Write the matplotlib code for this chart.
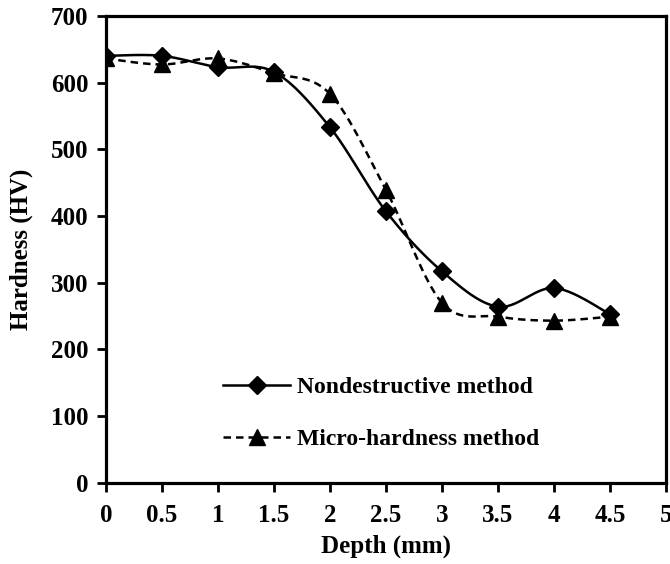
import numpy as np
import matplotlib.pyplot as plt
from matplotlib.lines import Line2D

depth = [0, 0.5, 1, 1.5, 2, 2.5, 3, 3.5, 4, 4.5]
nondestructive = [640, 640, 623, 616, 533, 407, 317, 264, 292, 253]
micro_hardness = [636, 627, 636, 614, 583, 439, 270, 249, 243, 249]

xticks = [0, 0.5, 1, 1.5, 2, 2.5, 3, 3.5, 4, 4.5, 5]
xticklabels = ['0', '0.5', '1', '1.5', '2', '2.5', '3', '3.5', '4', '4.5', '5']
yticks = [0, 100, 200, 300, 400, 500, 600, 700]

plt.rcParams['font.family'] = ['Liberation Serif', 'DejaVu Serif']
plt.rcParams['font.weight'] = 'bold'


def smooth(x, y, n=30):
    # bezier curve through the points, like a spreadsheet "smoothed line"
    x = np.asarray(x, float)
    y = np.asarray(y, float)
    px = np.concatenate([[x[0]], x, [x[-1]]])
    py = np.concatenate([[y[0]], y, [y[-1]]])
    xs, ys = [], []
    t = np.linspace(0, 1, n)
    for i in range(len(x) - 1):
        p0 = np.array([px[i + 1], py[i + 1]])
        p3 = np.array([px[i + 2], py[i + 2]])
        c1 = p0 + (np.array([px[i + 2], py[i + 2]]) - np.array([px[i], py[i]])) / 6
        c2 = p3 - (np.array([px[i + 3], py[i + 3]]) - np.array([px[i + 1], py[i + 1]])) / 6
        b = ((1 - t) ** 3)[:, None] * p0 + (3 * (1 - t) ** 2 * t)[:, None] * c1 \
            + (3 * (1 - t) * t ** 2)[:, None] * c2 + (t ** 3)[:, None] * p3
        xs.extend(b[:, 0])
        ys.extend(b[:, 1])
    return xs, ys


fig = plt.figure(figsize=(6.7, 5.64), dpi=100)
ax = fig.add_axes([0.158, 0.144, 0.836, 0.828])

sx, sy = smooth(depth, nondestructive)
ax.plot(sx, sy, color='black', lw=1.8)
ax.plot(depth, nondestructive, ls='none', marker='D', ms=9.5, color='black')

sx, sy = smooth(depth, micro_hardness)
ax.plot(sx, sy, color='black', lw=1.8, dashes=(3, 2))
ax.plot(depth, micro_hardness, ls='none', marker='^', ms=11, color='black')

ax.set_xlim(0, 5)
ax.set_ylim(0, 700)
ax.set_xticks(xticks)
ax.set_xticklabels(xticklabels)
ax.set_yticks(yticks)
ax.tick_params(direction='out', length=6.5, width=2, labelsize=18)
ax.tick_params(axis='x', pad=9)
ax.tick_params(axis='y', pad=6)
for s in ax.spines.values():
    s.set_linewidth(2.3)
    s.set_color('black')

ax.set_xlabel('Depth (mm)', fontsize=18, fontweight='bold', labelpad=5)
ax.set_ylabel('Hardness (HV)', fontsize=18, fontweight='bold', labelpad=13)

handles = [
    Line2D([], [], color='black', lw=1.8, marker='D', ms=9.5),
    Line2D([], [], color='black', lw=1.8, dashes=(3, 2), marker='^', ms=11),
]
ax.legend(handles, ['Nondestructive method', 'Micro-hardness method'],
          loc='upper left', bbox_to_anchor=(0.21, 0.228), frameon=False,
          fontsize=17, handlelength=2.8, handletextpad=0.3,
          labelspacing=1.3, borderpad=0, borderaxespad=0)

fig.savefig('out.png', dpi=100)
